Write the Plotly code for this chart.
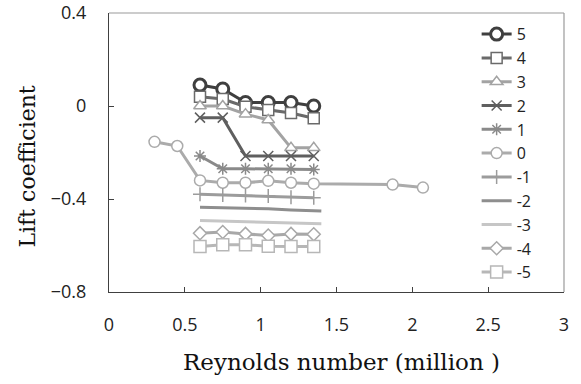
import plotly.graph_objects as go

x_main = [0.6, 0.75, 0.9, 1.05, 1.2, 1.35]
x_line = [0.6, 0.75, 0.9, 1.05, 1.2, 1.4]
x_zero = [0.3, 0.45, 0.6, 0.75, 0.9, 1.05, 1.2, 1.35, 1.87, 2.07]

y5 = [0.09, 0.073, 0.015, 0.015, 0.015, 0.0]
y4 = [0.04, 0.03, -0.003, -0.017, -0.03, -0.053]
y3 = [0.0, 0.0, -0.035, -0.06, -0.18, -0.18]
y2 = [-0.05, -0.05, -0.215, -0.215, -0.215, -0.215]
y1 = [-0.215, -0.27, -0.27, -0.27, -0.27, -0.273]
y0 = [-0.154, -0.172, -0.32, -0.33, -0.33, -0.322, -0.33, -0.334, -0.338, -0.351]
ym1 = [-0.38, -0.383, -0.385, -0.387, -0.393, -0.395]
ym2 = [-0.435, -0.437, -0.44, -0.442, -0.447, -0.452]
ym3 = [-0.493, -0.495, -0.497, -0.5, -0.503, -0.506]
ym4 = [-0.547, -0.542, -0.55, -0.557, -0.55, -0.552]
ym5 = [-0.604, -0.597, -0.597, -0.603, -0.604, -0.604]

# name, x, y, colour, symbol, size, marker line width, filled white?
series = [
    ("5", x_main, y5, "#3f3f3f", "circle", 12, 3, True),
    ("4", x_main, y4, "#6a6a6a", "square", 11, 1.5, True),
    ("3", x_main, y3, "#a3a3a3", "triangle-up", 11, 1.5, True),
    ("2", x_main, y2, "#5f5f5f", "x-thin", 10, 1.5, False),
    ("1", x_main, y1, "#8a8a8a", "asterisk", 10, 1.5, False),
    ("0", x_zero, y0, "#ababab", "circle", 11, 1.5, True),
    ("-1", x_main, ym1, "#9c9c9c", "cross-thin", 10, 1.5, False),
    ("-2", x_line, ym2, "#8e8e8e", None, 0, 0, False),
    ("-3", x_line, ym3, "#c6c6c6", None, 0, 0, False),
    ("-4", x_main, ym4, "#a8a8a8", "diamond", 10, 1.5, True),
    ("-5", x_main, ym5, "#b7b7b7", "square", 12, 1.5, True),
]

fig = go.Figure()
for name, xs, ys, col, sym, size, mlw, filled in series:
    if sym is None:
        fig.add_trace(go.Scatter(x=xs, y=ys, name=name, mode="lines",
                                 line=dict(color=col, width=3)))
    else:
        fig.add_trace(go.Scatter(
            x=xs, y=ys, name=name, mode="lines+markers",
            line=dict(color=col, width=3),
            marker=dict(symbol=sym, size=size,
                        color="white" if filled else col,
                        line=dict(color=col, width=mlw))))

serif = "DejaVu Serif, Liberation Serif, serif"
fig.update_layout(
    width=581, height=384,
    margin=dict(l=109, r=17, t=13, b=92),
    paper_bgcolor="white", plot_bgcolor="white",
    font=dict(family="Open Sans, Arial, sans-serif", size=18, color="#222"),
    legend=dict(x=0.808, y=0.985, xanchor="left", yanchor="top",
                bgcolor="rgba(0,0,0,0)", tracegroupgap=0,
                font=dict(size=16), itemwidth=30),
    showlegend=True,
    shapes=[dict(type="line", xref="paper", yref="paper", x0=0, y0=1, x1=1, y1=1,
                 line=dict(color="#9a9a9a", width=1.2), layer="above"),
            dict(type="line", xref="paper", yref="paper", x0=1, y0=0, x1=1, y1=1,
                 line=dict(color="#9a9a9a", width=1.2), layer="above")],
    annotations=[
        dict(text="Reynolds number (million )", xref="paper", yref="paper",
             x=0.51, y=-0.25, xanchor="center", yanchor="middle", showarrow=False,
             font=dict(family=serif, size=23, color="#111")),
        dict(text="Lift coefficient", xref="paper", yref="paper",
             x=-0.18, y=0.45, xanchor="center", yanchor="middle", showarrow=False,
             textangle=-90, font=dict(family=serif, size=22, color="#111")),
    ],
)
fig.update_xaxes(range=[0, 3], dtick=0.5, tick0=0, showgrid=False, zeroline=False,
                 showline=True, linecolor="#404040", linewidth=1.3,
                 ticks="inside", ticklen=5, tickcolor="#404040",
                 ticklabelstandoff=16, automargin=False)
fig.update_yaxes(range=[-0.8, 0.4], dtick=0.4, tick0=-0.8, showgrid=False, zeroline=False,
                 showline=True, linecolor="#404040", linewidth=1.3,
                 ticks="inside", ticklen=5, tickcolor="#404040",
                 ticklabelstandoff=18, automargin=False)
fig.write_html("out.html")
